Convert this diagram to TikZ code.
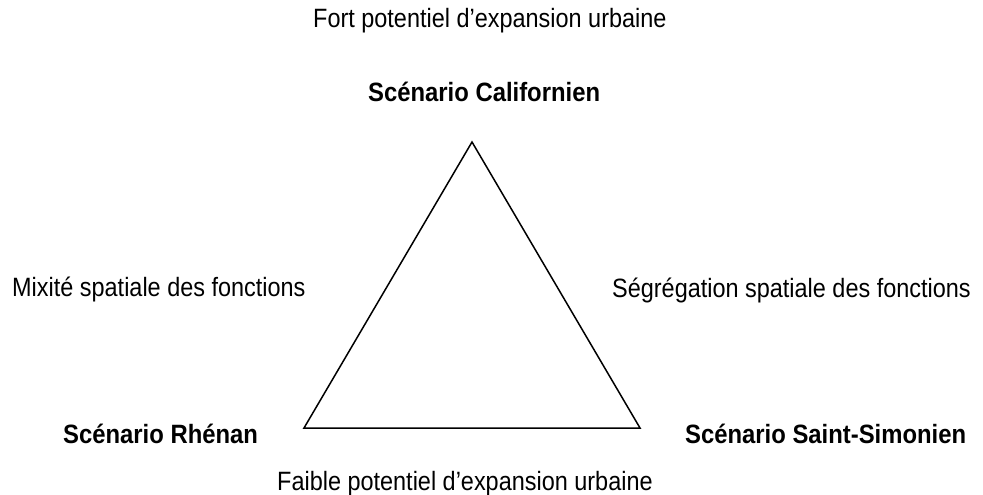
\documentclass[tikz,border=0pt]{standalone}
\usepackage{fontspec}
\setmainfont[FakeStretch=0.885,BoldFeatures={FakeStretch=0.9}]{Liberation Sans}
\begin{document}
\begin{tikzpicture}[x=1pt,y=-1pt,
  lbl/.style={anchor=base west,inner sep=0pt,font=\fontsize{26.5}{30}\selectfont},
  blbl/.style={lbl,font=\fontsize{26.5}{30}\selectfont\bfseries},
  edge/.style={draw=black,line width=1.5pt,line join=miter}]
\useasboundingbox[fill=white] (0,0) rectangle (983,495);
\coordinate (top) at (472,142);
\coordinate (bl) at (304,428);
\coordinate (br) at (640,428);
\draw[edge] (top) -- (bl) -- (br) -- cycle;
\node[lbl] (fort) at (313,28) {Fort potentiel d’expansion urbaine};
\node[blbl] (cal) at (368,102) {Scénario Californien};
\node[lbl] (mix) at (12,296) {Mixité spatiale des fonctions};
\node[lbl] (seg) at (612,297) {Ségrégation spatiale des fonctions};
\node[blbl] (rhe) at (63,443) {Scénario Rhénan};
\node[blbl] (ssm) at (685,443) {Scénario Saint-Simonien};
\node[lbl] (faible) at (277,490) {Faible potentiel d’expansion urbaine};
\end{tikzpicture}
\end{document}
